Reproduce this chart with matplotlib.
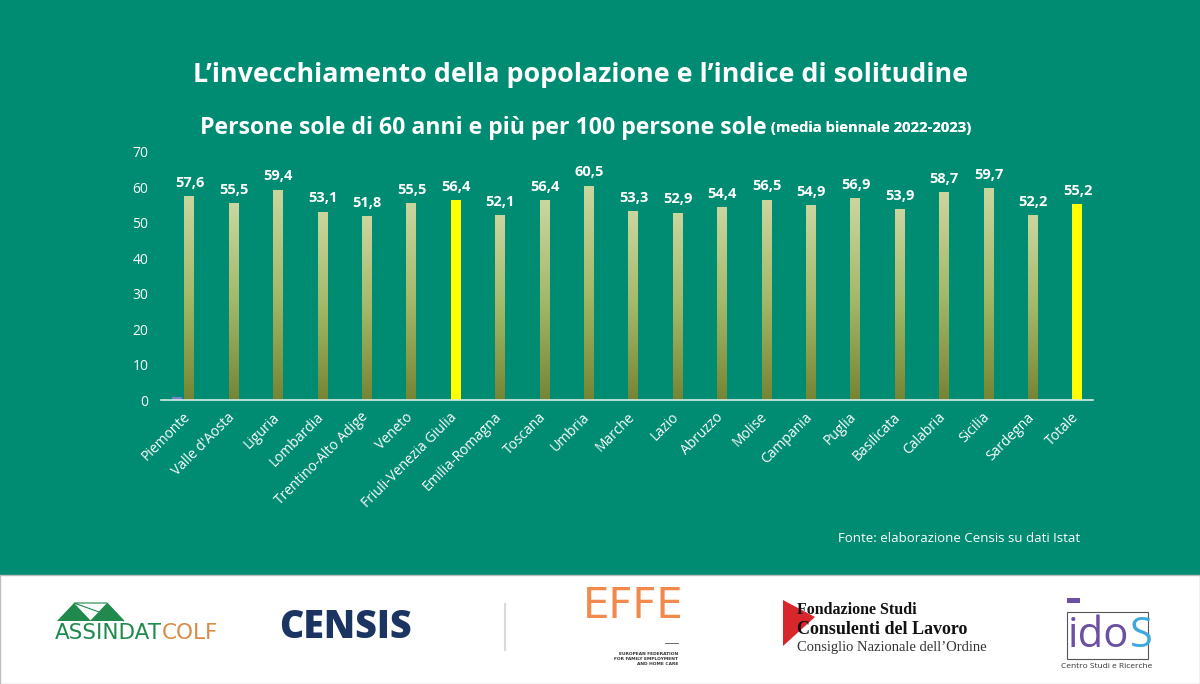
import matplotlib

matplotlib.use("Agg")
import matplotlib.pyplot as plt
import numpy as np
from matplotlib.colors import LinearSegmentedColormap
from matplotlib.patches import Polygon, Rectangle

# --- data ---
regions = [
    "Piemonte", "Valle d'Aosta", "Liguria", "Lombardia", "Trentino-Alto Adige",
    "Veneto", "Friuli-Venezia Giulia", "Emilia-Romagna", "Toscana", "Umbria",
    "Marche", "Lazio", "Abruzzo", "Molise", "Campania", "Puglia", "Basilicata",
    "Calabria", "Sicilia", "Sardegna", "Totale",
]
values = [57.6, 55.5, 59.4, 53.1, 51.8, 55.5, 56.4, 52.1, 56.4, 60.5, 53.3,
          52.9, 54.4, 56.5, 54.9, 56.9, 53.9, 58.7, 59.7, 52.2, 55.2]
# stray second series visible only next to Piemonte
other = [0.8, 0, 0, 0, 0, 0, 0, 0, 0, 0, 0, 0, 0, 0, 0, 0, 0, 0, 0, 0, 0]
highlight = ["Friuli-Venezia Giulia", "Totale"]
yticks = [0, 10, 20, 30, 40, 50, 60, 70]

BG = "#008B73"
FONT = "Open Sans"


def px(xp, yp):
    """pixel position (from top-left) -> figure fraction"""
    return xp / 1200, 1 - yp / 684


fig = plt.figure(figsize=(12, 6.84), dpi=100)
fig.patch.set_facecolor(BG)

ax = fig.add_axes([0.134, 0.4152, 0.777, 0.3626])
ax.set_facecolor("none")

x = np.arange(len(regions))
w = 0.225
off = 0.146
ax.bar(x - off, other, w, color="#7E7FC9", zorder=2)
bars = ax.bar(x + off, values, w, color="none", zorder=2)

cmap = LinearSegmentedColormap.from_list("olive", ["#768534", "#A4B86A", "#CBD69F"])
grad = np.linspace(1, 0, 256).reshape(-1, 1)
for name, bar, v in zip(regions, bars, values):
    x0, bw = bar.get_x(), bar.get_width()
    if name in highlight:
        bar.set_facecolor("#FFFF00")
    else:
        im = ax.imshow(grad, extent=[x0, x0 + bw, 0, v], aspect="auto",
                       cmap=cmap, vmin=0, vmax=1, zorder=2)
        im.set_clip_path(bar)
    ax.text(x0 + bw / 2, v + 1.8, f"{v:.1f}".replace(".", ","),
            ha="center", va="bottom", color="white", fontsize=10.5,
            fontweight="bold", family=FONT, clip_on=False)

ax.set_xlim(-0.5, len(regions) - 0.5)
ax.set_ylim(0, 70)
ax.set_yticks(yticks)
ax.set_xticks(x)
ax.set_xticklabels(regions, rotation=45, ha="right", rotation_mode="anchor")
ax.tick_params(length=0, colors="white", labelsize=10)
ax.tick_params(axis="y", pad=9)
ax.tick_params(axis="x", pad=7)
for lab in ax.get_xticklabels() + ax.get_yticklabels():
    lab.set_family(FONT)
for s in ["top", "right", "left"]:
    ax.spines[s].set_visible(False)
ax.spines["bottom"].set_color("#D6ECE4")
ax.spines["bottom"].set_linewidth(1.2)

# --- titles ---
fig.text(0.484, 0.890, "L\u2019invecchiamento della popolazione e l\u2019indice di solitudine",
         ha="center", va="center", color="white", fontsize=19.4, fontweight="bold",
         family=FONT)
t1 = fig.text(0.167, 0.813, "Persone sole di 60 anni e più per 100 persone sole",
              ha="left", va="center", color="white", fontsize=16.7,
              fontweight="bold", family=FONT)
fig.add_artist(ax.annotate(" (media biennale 2022-2023)", xy=(1, 0.2),
                           xycoords=t1, va="bottom", ha="left", color="white",
                           fontsize=10.6, fontweight="bold", family=FONT,
                           annotation_clip=False))

fig.text(0.90, 0.212, "Fonte: elaborazione Censis su dati Istat", ha="right",
         va="center", color="white", fontsize=9.5, family=FONT)

# --- bottom logo strip ---
fig.patches.append(Rectangle((0, 0), 1, 109 / 684, transform=fig.transFigure,
                             facecolor="white", edgecolor="#BDBDBD", lw=1,
                             zorder=0))

# Assindatcolf
for xp in (57, 90):
    fig.patches.append(Polygon([px(xp, 621), px(xp + 17, 603), px(xp + 34, 621)],
                               closed=True, transform=fig.transFigure,
                               facecolor="#1F8A4C", edgecolor="none"))
fig.patches.append(Polygon([px(74, 603), px(107, 603), px(124, 621)], closed=True,
                           fill=False, transform=fig.transFigure,
                           edgecolor="#1F8A4C", lw=0.8))
ta = fig.text(*px(55, 633), "ASSINDAT", ha="left", va="center",
              color="#1F8A4C", fontsize=15.5, family="Liberation Sans Narrow")
fig.add_artist(ax.annotate("COLF", xy=(1, 0), xycoords=ta, va="bottom",
                           color="#D98B45", fontsize=15.5,
                           family="Liberation Sans Narrow", annotation_clip=False))

fig.text(*px(345, 627), "CENSIS", ha="center", va="center",
         color="#1B3461", fontsize=27, fontweight="heavy", family=FONT)
fig.add_artist(plt.Line2D([505 / 1200, 505 / 1200], [1 - 604 / 684, 1 - 650 / 684],
                          color="#D9D9D9", lw=1.5))

# EFFE
fig.text(*px(633, 606), "EFFE", ha="center", va="center",
         color="#F28A4E", fontsize=30, family="Liberation Sans Narrow")
fig.add_artist(plt.Line2D([665 / 1200, 678 / 1200], [1 - 643 / 684] * 2,
                          color="#555555", lw=0.6))
fig.text(*px(678, 659),
         "EUROPEAN FEDERATION\nFOR FAMILY EMPLOYMENT\nAND HOME CARE",
         ha="right", va="center", color="#333333", fontsize=3.2,
         fontweight="bold", linespacing=1.4, ma="right")

# Fondazione Studi Consulenti del Lavoro
fig.patches.append(Polygon([px(783, 600), px(815, 617), px(783, 646)], closed=True,
                           transform=fig.transFigure, facecolor="#D7262C"))
fig.text(*px(797, 610), "Fondazione Studi", ha="left", va="center",
         color="#111111", fontsize=11.5, fontweight="bold", family="Liberation Serif")
fig.text(*px(797, 629), "Consulenti del Lavoro", ha="left", va="center",
         color="#111111", fontsize=13, fontweight="bold", family="Liberation Serif")
fig.text(*px(797, 648), "Consiglio Nazionale dell\u2019Ordine", ha="left",
         va="center", color="#333333", fontsize=10.5, family="Liberation Serif")

# IDOS
fig.patches.append(Rectangle(px(1067, 659), 81 / 1200, 47 / 684,
                             transform=fig.transFigure, fill=False,
                             edgecolor="#555555", lw=0.8))
fig.patches.append(Rectangle(px(1067, 603), 13 / 1200, 5 / 684,
                             transform=fig.transFigure, facecolor="#6A4FA3"))
ti = fig.text(*px(1068, 636), "ido", ha="left", va="center",
              color="#6A4FA3", fontsize=30, family=FONT)
fig.add_artist(ax.annotate("S", xy=(1, 0), xycoords=ti, va="bottom",
                           color="#3FA9DE", fontsize=30, family=FONT,
                           annotation_clip=False))
fig.text(*px(1107, 666), "Centro Studi e Ricerche", ha="center",
         va="center", color="#333333", fontsize=6, family=FONT)

fig.savefig("out.png", dpi=100, facecolor=fig.get_facecolor())
